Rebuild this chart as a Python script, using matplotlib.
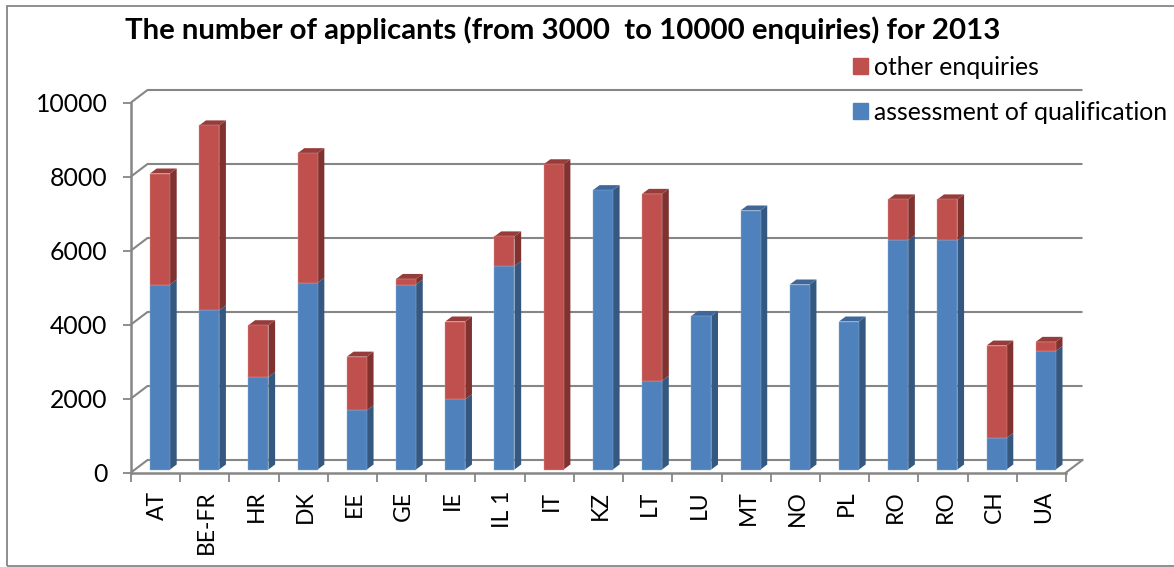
import matplotlib
matplotlib.use("Agg")
import matplotlib.pyplot as plt
from matplotlib.patches import Patch, Rectangle

plt.rcParams['font.family'] = ['Lato', 'DejaVu Sans']

countries = ['AT', 'BE-FR', 'HR', 'DK', 'EE', 'GE', 'IE', 'IL 1', 'IT', 'KZ',
             'LT', 'LU', 'MT', 'NO', 'PL', 'RO', 'RO', 'CH', 'UA']
assessment = [5000, 4300, 2500, 5050, 1600, 5000, 1900, 5500, 0, 7550,
              2400, 4150, 7000, 5000, 4000, 6200, 6200, 850, 3200]
other = [3000, 5000, 1400, 3500, 1450, 150, 2100, 800, 8250, 0,
         5050, 0, 0, 0, 0, 1100, 1100, 2500, 250]
yticks = [0, 2000, 4000, 6000, 8000, 10000]

W, H = 1174, 567
left, right, floor, top = 131, 1066, 472.5, 102.5
px_x = 19 / (right - left)       # data units per pixel
px_y = 10000 / (floor - top)

blue, blue_side, blue_top = '#4f81bd', '#34587f', '#3f6899'
red, red_side, red_top = '#c0504d', '#7f3230', '#963c3a'
grid = '#868686'

fig = plt.figure(figsize=(W / 100, H / 100), dpi=100)
fig.patches.append(Rectangle((7 / W, 1 - 566 / H), 1180 / W, 560.5 / H, transform=fig.transFigure,
                             fill=False, edgecolor=grid, linewidth=1.3))
ax = fig.add_axes([left / W, 1 - floor / H, (right - left) / W, (floor - top) / H])
ax.set_xlim(0, 19)
ax.set_ylim(0, 10000)
for s in ax.spines.values():
    s.set_visible(False)
ax.patch.set_visible(False)

# back wall and floor of the 3d box
wall_x = 16.5 * px_x
wall_y = 12.5 * px_y
for v in yticks:
    ax.plot([0, wall_x, 19 + wall_x], [v, v + wall_y, v + wall_y], color=grid, lw=1.5,
            clip_on=False, zorder=1, solid_capstyle='butt')
ax.plot([19, 19 + wall_x], [0, wall_y], color=grid, lw=1.5, clip_on=False, zorder=1)
ax.plot([0, 19], [0, 0], color=grid, lw=1.8, clip_on=False, zorder=2)
ax.plot([0, 0], [0, 10000], color=grid, lw=1.8, clip_on=False, zorder=2)

# bars with a fake depth
bar_w = 20 * px_x
off = 19 * px_x
lift = 3 * px_y
dx = 6.7 * px_x
dy = 5 * px_y


def side(x, y0, y1, color):
    ax.fill([x + bar_w, x + bar_w + dx, x + bar_w + dx, x + bar_w],
            [y0, y0 + dy, y1 + dy, y1], color=color, lw=0, clip_on=False, zorder=3)


for i in range(len(countries)):
    x = i + off
    a = assessment[i]
    o = other[i]
    if a > 0:
        ax.bar(x, a, bar_w, bottom=lift, align='edge', color=blue, zorder=4, clip_on=False,
               edgecolor='#8fb0d8', linewidth=0.3)
        side(x, lift, lift + a, blue_side)
    if o > 0:
        ax.bar(x, o, bar_w, bottom=lift + a, align='edge', color=red, zorder=4, clip_on=False,
               edgecolor='#dc9a98', linewidth=0.3)
        side(x, lift + a, lift + a + o, red_side)
    t = lift + a + o
    ax.fill([x, x + bar_w, x + bar_w + dx, x + dx], [t, t, t + dy, t + dy],
            color=red_top if o > 0 else blue_top, lw=0, clip_on=False, zorder=3)

ax.set_xticks(range(20))
ax.set_xticklabels([])
ax.set_xticks([i + 0.54 for i in range(19)], minor=True)
ax.set_xticklabels(countries, minor=True, rotation=90, fontsize=16.5, color='black')
ax.tick_params(axis='x', which='major', length=6.5, width=1.3, color=grid)
ax.tick_params(axis='x', which='minor', length=0, pad=13)
ax.set_yticks(yticks)
ax.tick_params(axis='y', length=6, width=1.3, color=grid, labelsize=17.8, pad=11)

fig.text(125 / W, 1 - 30 / H, 'The number of applicants (from 3000  to 10000 enquiries) for 2013',
         fontsize=21.2, fontweight='bold', va='center', ha='left')

handles = [Patch(color=red, label='other enquiries'),
           Patch(color=blue, label='assessment of qualification')]
fig.legend(handles=handles, loc='upper left', bbox_to_anchor=(846 / W, 1 - 48.6 / H), frameon=False,
           fontsize=17.8, labelspacing=0.89, handlelength=0.6, handleheight=0.6, handletextpad=0.25,
           borderpad=0.3, borderaxespad=0)

fig.savefig('out.png', dpi=100)
